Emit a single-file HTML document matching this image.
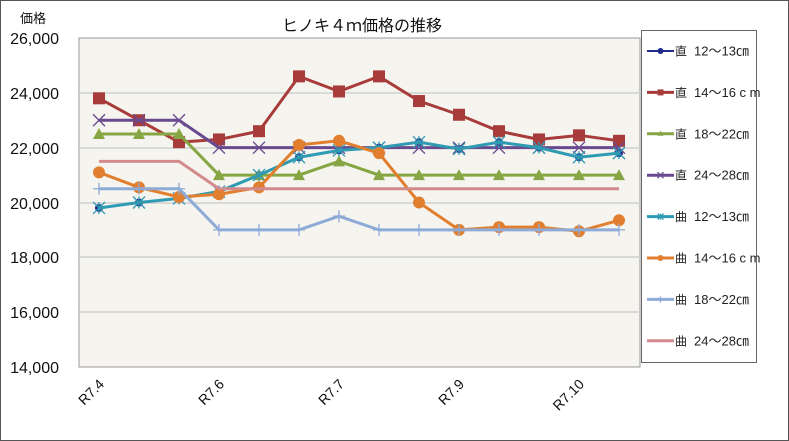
<!DOCTYPE html>
<html><head><meta charset="utf-8"><style>
html,body{margin:0;padding:0;background:#fff;}
svg{display:block;font-family:"Liberation Sans","Noto Sans CJK JP",sans-serif;}
</style></head><body>
<svg id="s" width="789" height="441" xmlns="http://www.w3.org/2000/svg">
<rect x="0.5" y="0.5" width="788" height="440" fill="#fff" stroke="#555"/>
<rect x="79" y="38" width="561" height="329" fill="#f5f4ef" stroke="#999"/>
<g stroke="#d0d0d0" stroke-width="1.5">
<line x1="79" x2="640" y1="93" y2="93"/><line x1="79" x2="640" y1="148" y2="148"/>
<line x1="79" x2="640" y1="203" y2="203"/><line x1="79" x2="640" y1="257" y2="257"/>
<line x1="79" x2="640" y1="312" y2="312"/>
</g>
<g font-size="16" fill="#111" text-anchor="end">
<text x="59" y="44">26,000</text><text x="59" y="99">24,000</text><text x="59" y="154">22,000</text>
<text x="59" y="209">20,000</text><text x="59" y="263">18,000</text><text x="59" y="318">16,000</text>
<text x="59" y="373">14,000</text>
</g>
<text x="20" y="23" font-size="13" fill="#111">価格</text>
<text x="362" y="31" font-size="16" fill="#111" text-anchor="middle">ヒノキ４ｍ価格の推移</text>
<g font-size="14" fill="#111" text-anchor="end">
<text transform="translate(105,385) rotate(-45)">R7.4</text>
<text transform="translate(225,385) rotate(-45)">R7.6</text>
<text transform="translate(345,385) rotate(-45)">R7.7</text>
<text transform="translate(465,385) rotate(-45)">R7.9</text>
<text transform="translate(585,385) rotate(-45)">R7.10</text>
</g>
<g id="series"></g>
<rect x="641.5" y="30.5" width="115" height="332" fill="#fff" stroke="#666"/>
<g id="legend" font-size="12" fill="#222"></g>
</svg>
<script>
const Y=v=>38+(26000-v)/2000*54.83, X=i=>99+40*i;
const S=[
["直","12～13㎝","#1f2a8a","dot",[19800,20000,20150,20400,21000,21650,21900,22000,22200,21950,22200,22000,21650,21800],2],
["直","14～16 c m","#a83c3a","sq",[23800,23000,22200,22300,22600,24600,24050,24600,23700,23200,22600,22300,22450,22250],3],
["直","18～22㎝","#86a643","tri",[22500,22500,22500,21000,21000,21000,21500,21000,21000,21000,21000,21000,21000,21000],3],
["直","24～28㎝","#6a4a8f","x",[23000,23000,23000,22000,22000,22000,22000,22000,22000,22000,22000,22000,22000,22000],3],
["曲","12～13㎝","#2f9bb3","star",[19800,20000,20150,20400,21000,21650,21900,22000,22200,21950,22200,22000,21650,21800],3],
["曲","14～16 c m","#e27f2e","circ",[21100,20550,20200,20300,20550,22100,22250,21800,20000,19000,19100,19100,18950,19350],3],
["曲","18～22㎝","#8eaad6","plus",[20500,20500,20500,19000,19000,19000,19500,19000,19000,19000,19000,19000,19000,19000],3],
["曲","24～28㎝","#d38a8c","none",[21500,21500,21500,20500,20500,20500,20500,20500,20500,20500,20500,20500,20500,20500],3]];
function mk(t,c,x,y,big){const r=big?6:3;switch(t){
case"dot":return`<circle cx="${x}" cy="${y}" r="${big?4:3}" fill="${c}"/>`;
case"sq":return`<rect x="${x-r}" y="${y-r}" width="${2*r}" height="${2*r}" fill="${c}"/>`;
case"tri":return`<polygon points="${x},${y-r} ${x+r},${y+r-1} ${x-r},${y+r-1}" fill="${c}"/>`;
case"x":return`<path d="M${x-r} ${y-r}L${x+r} ${y+r}M${x-r} ${y+r}L${x+r} ${y-r}" stroke="${c}" stroke-width="1.3"/>`;
case"star":return`<path d="M${x-r} ${y-r}L${x+r} ${y+r}M${x-r} ${y+r}L${x+r} ${y-r}M${x} ${y-r}V${y+r}" stroke="${c}" stroke-width="1.3"/>`;
case"circ":return`<circle cx="${x}" cy="${y}" r="${r}" fill="${c}"/>`;
case"plus":return`<path d="M${x-r} ${y}H${x+r}M${x} ${y-r}V${y+r}" stroke="${c}" stroke-width="1.3"/>`;}return"";}
let h="",L="";
S.forEach((s,k)=>{const[a,n,c,m,d,w]=s;
h+=`<polyline fill="none" stroke="${c}" stroke-width="${w}" points="${d.map((v,i)=>X(i)+","+Y(v)).join(" ")}"/>`;
d.forEach((v,i)=>h+=mk(m,c,X(i),Y(v),true));
const ly=51+k*41.4;
L+=`<line x1="647" x2="674" y1="${ly}" y2="${ly}" stroke="${c}" stroke-width="${w}"/>`+mk(m,c,660.5,ly,false)+`<text x="675" y="${ly+4.5}">${a}</text><text x="694" y="${ly+4.5}" font-size="13">${n}</text>`;});
document.getElementById("series").innerHTML=h;document.getElementById("legend").innerHTML=L;
</script>
</body></html>
